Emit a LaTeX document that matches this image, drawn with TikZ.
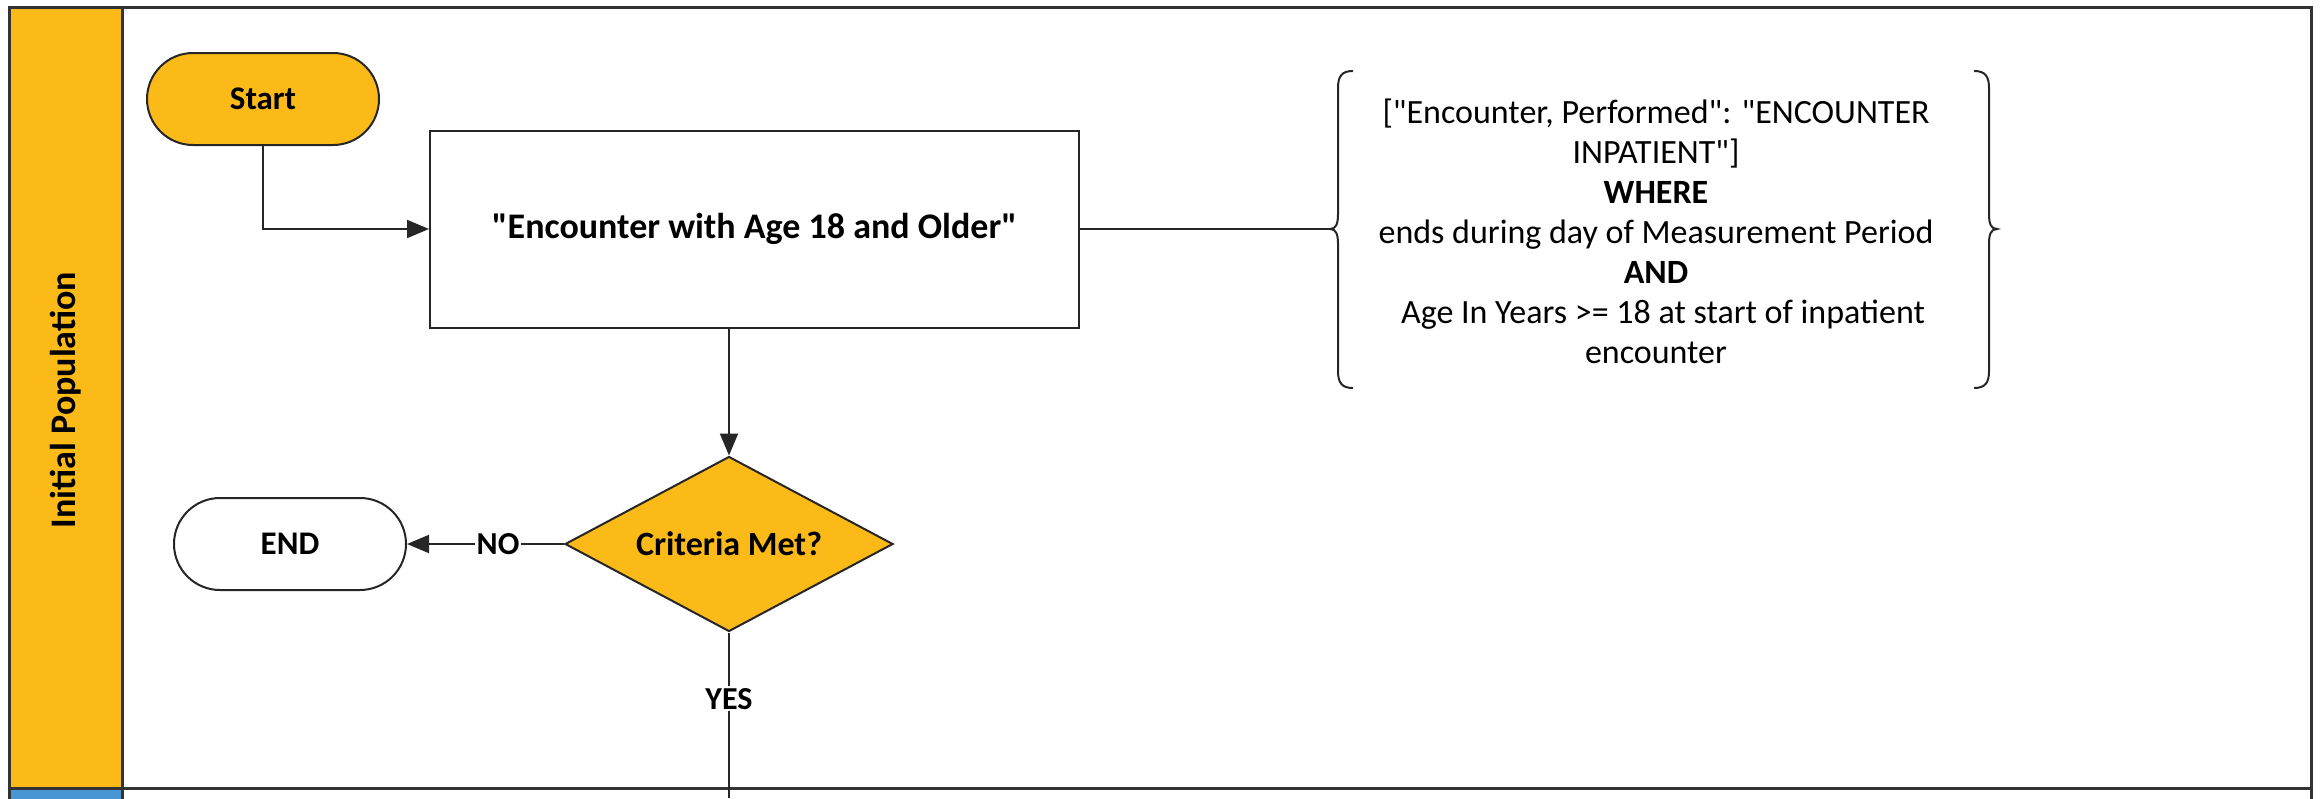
\documentclass[tikz,border=0pt]{standalone}
\usepackage{fontspec}
\setmainfont{Carlito}[Ligatures=TeXOff]
\usetikzlibrary{shapes.geometric,arrows.meta}
\definecolor{laneorange}{RGB}{252,186,25}
\definecolor{laneblue}{RGB}{72,150,212}
\tikzset{
  base/.style={font=\fontsize{34}{40}\selectfont, line width=2pt, draw=black!85},
  terminal/.style={base, rounded corners=46pt, minimum width=232pt, minimum height=92pt, inner sep=0pt, font=\fontsize{33}{40}\selectfont\bfseries},
  process/.style={base, rectangle, minimum width=649pt, minimum height=197pt, inner sep=0pt, font=\fontsize{36}{40}\selectfont\bfseries},
  decision/.style={base, diamond, aspect=1.87, minimum width=328pt, minimum height=175pt, inner sep=0pt, fill=laneorange, font=\fontsize{34}{40}\selectfont\bfseries},
  conn/.style={line width=2pt, draw=black!85},
  arr/.style={conn, -{Triangle[length=22pt,width=18pt]}},
  lbl/.style={fill=white, inner sep=2pt, font=\fontsize{32}{36}\selectfont\bfseries},
  brace/.style={line width=2pt, draw=black!85},
}
\begin{document}
\begin{tikzpicture}[x=1pt,y=-1pt]
\useasboundingbox (0,0) rectangle (2323,798);
% lane
\fill[laneorange] (9,7) rectangle (122,787);
\fill[laneblue] (9,789) rectangle (122,800);
\draw[line width=3pt, draw=black!80] (9,800) -- (9,7) -- (2311,7) -- (2311,800);
\draw[line width=3pt, draw=black!80] (122,7) -- (122,800);
\draw[line width=3pt, draw=black!80] (9,788) -- (2311,788);
\node[rotate=90, font=\fontsize{36}{40}\selectfont\bfseries] (lane) at (65.5,400) {Initial Population};
% nodes
\node[terminal, fill=laneorange] (start) at (263,99) {Start};
\node[process] (enc) at (754.5,229) {"Encounter with Age 18 and Older"};
\node[decision] (crit) at (729,544) {Criteria Met?};
\node[terminal, fill=white] (end) at (290,544) {END};
\node[base, draw=none, align=center, inner sep=0pt] (def) at (1656,231) {["Encounter, Performed": "ENCOUNTER\\
INPATIENT"]\\
\textbf{WHERE}\\
ends during day of Measurement Period\\
\textbf{AND}\\
\hspace*{14pt}Age In Years >= 18 at start of inpatient\\
encounter};
\coordinate (lb) at (1330,229);
\coordinate (rb) at (1997,229);
\coordinate (bend) at (263,229);
\coordinate (down) at (729,798);
% braces
\draw[brace] (1353,71) .. controls (1342,71) and (1338,76) .. (1338,88) -- (1338,214) .. controls (1338,224) and (1336,229) .. (lb) .. controls (1336,229) and (1338,234) .. (1338,244) -- (1338,371) .. controls (1338,383) and (1342,388) .. (1353,388);
\draw[brace] (1974,71) .. controls (1985,71) and (1989,76) .. (1989,88) -- (1989,214) .. controls (1989,224) and (1991,229) .. (rb) .. controls (1991,229) and (1989,234) .. (1989,244) -- (1989,371) .. controls (1989,383) and (1985,388) .. (1974,388);
% connectors
\draw[arr] (start.south) -- (bend) -- (enc.west);
\draw[conn] (enc.east) -- (lb);
\draw[arr] (enc.south -| crit.north) -- (crit.north);
\draw[arr] (crit.west) -- node[lbl, pos=0.42] (no) {NO} (end.east);
\draw[conn] (crit.south) -- node[lbl, pos=0.4] (yes) {YES} (down);
\end{tikzpicture}
\end{document}
